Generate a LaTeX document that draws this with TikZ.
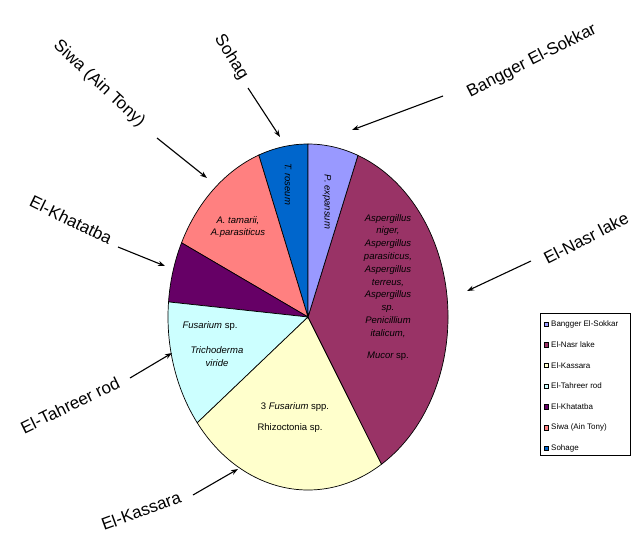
\documentclass[tikz,border=0pt]{standalone}
\usepackage{fontspec}
\setmainfont{Liberation Sans}
\usetikzlibrary{arrows.meta}
\definecolor{cLav}{HTML}{9999FF}
\definecolor{cMar}{HTML}{993366}
\definecolor{cYel}{HTML}{FFFFCC}
\definecolor{cCya}{HTML}{CCFFFF}
\definecolor{cPur}{HTML}{660066}
\definecolor{cSal}{HTML}{FF8080}
\definecolor{cBlu}{HTML}{0066CC}
\tikzset{
  slice/.style={draw=black, line width=0.7pt},
  ell/.style={x radius=140, y radius=173},
  lab/.style={inner sep=0pt, font=\fontsize{17}{19}\selectfont},
  arr/.style={-{Stealth[length=7pt,width=5pt]}, line width=1.1pt},
  pietxt/.style={inner sep=0pt, align=center, font=\fontsize{9.5}{12.8}\selectfont\itshape},
  legbox/.style={draw=black, line width=0.5pt, minimum size=4.5pt, inner sep=0pt},
  legtxt/.style={anchor=west, inner sep=0pt, font=\fontsize{8}{9}\selectfont}
}
\begin{document}
\begin{tikzpicture}[x=1pt,y=-1pt]
\useasboundingbox (0,0) rectangle (635,536);
% pie
\begin{scope}[shift={(308,317)}, y=1pt]
  \filldraw[slice, fill=cBlu] (0,0) -- (90:140 and 173) arc[start angle=90, end angle=110.6, ell] -- cycle;
  \filldraw[slice, fill=cSal] (0,0) -- (110.6:140 and 173) arc[start angle=110.6, end angle=154.6, ell] -- cycle;
  \filldraw[slice, fill=cPur] (0,0) -- (154.6:140 and 173) arc[start angle=154.6, end angle=175, ell] -- cycle;
  \filldraw[slice, fill=cCya] (0,0) -- (175:140 and 173) arc[start angle=175, end angle=217.7, ell] -- cycle;
  \filldraw[slice, fill=cYel] (0,0) -- (217.7:140 and 173) arc[start angle=217.7, end angle=301.7, ell] -- cycle;
  \filldraw[slice, fill=cMar] (0,0) -- (301.7:140 and 173) arc[start angle=301.7, end angle=429.1, ell] -- cycle;
  \filldraw[slice, fill=cLav] (0,0) -- (69.1:140 and 173) arc[start angle=69.1, end angle=90, ell] -- cycle;
\end{scope}
% texts inside pie
\node[pietxt, rotate=-90] (tP) at (327,202) {P.\ expansum};
\node[pietxt, rotate=-90] (tT) at (288,184) {T.\ roseum};
\node[pietxt] (tA) at (238,227) {A.\ tamarii,\\A.parasiticus};
\node[pietxt, anchor=north] (tM) at (388,214) {Aspergillus\\niger,\\Aspergillus\\parasiticus,\\Aspergillus\\terreus,\\Aspergillus\\sp.\\Penicillium\\italicum,\\[9pt]Mucor \upshape sp.};
\node[pietxt] (tF) at (210,326) {Fusarium \upshape sp.};
\node[pietxt] (tTr) at (217,357) {Trichoderma\\viride};
\node[pietxt, font=\fontsize{9.5}{12.8}\selectfont] (tK1) at (295,407) {3 \textit{Fusarium} spp.};
\node[pietxt, font=\fontsize{9.5}{12.8}\selectfont] (tK2) at (290,428) {Rhizoctonia sp.};
% outer labels
\node[lab, rotate=-43] (siwa) at (99,84) {Siwa (Ain Tony)};
\node[lab, rotate=-58] (sohag) at (231,57) {Sohag};
\node[lab, rotate=27] (bang) at (532,61) {Bangger El-Sokkar};
\node[lab, rotate=27] (nasr) at (586,238) {El-Nasr lake};
\node[lab, rotate=-26] (khat) at (71,220) {El-Khatatba};
\node[lab, rotate=26] (tahr) at (70,405) {El-Tahreer rod};
\node[lab, rotate=20] (kass) at (141,511) {El-Kassara};
% arrows
\coordinate (siwaS) at (157,138); \coordinate (siwaT) at (207,178);
\coordinate (sohS) at (248,88);   \coordinate (sohT) at (280,137);
\coordinate (banS) at (443,96);   \coordinate (banT) at (352,130);
\coordinate (nasS) at (531,261);  \coordinate (nasT) at (467,291);
\coordinate (khaS) at (118,247);  \coordinate (khaT) at (165,266);
\coordinate (tahS) at (130,378);  \coordinate (tahT) at (172,353);
\coordinate (kasS) at (193,495);  \coordinate (kasT) at (238,469);
\draw[arr] (siwaS) -- (siwaT);
\draw[arr] (sohS) -- (sohT);
\draw[arr] (banS) -- (banT);
\draw[arr] (nasS) -- (nasT);
\draw[arr] (khaS) -- (khaT);
\draw[arr] (tahS) -- (tahT);
\draw[arr] (kasS) -- (kasT);
% legend
\node[draw=black, line width=0.5pt, minimum width=90pt, minimum height=142pt, anchor=north west, inner sep=0pt] (leg) at (540,313) {};
\foreach \c/\t [count=\i from 0] in {cLav/Bangger El-Sokkar, cMar/El-Nasr lake, cYel/El-Kassara, cCya/El-Tahreer rod, cPur/El-Khatatba, cSal/Siwa (Ain Tony), cBlu/Sohage}{
  \node[legbox, fill=\c] (lb\i) at (546,{324+20.7*\i}) {};
  \node[legtxt] (lt\i) at (551,{324+20.7*\i}) {\t};
}
\end{tikzpicture}
\end{document}
